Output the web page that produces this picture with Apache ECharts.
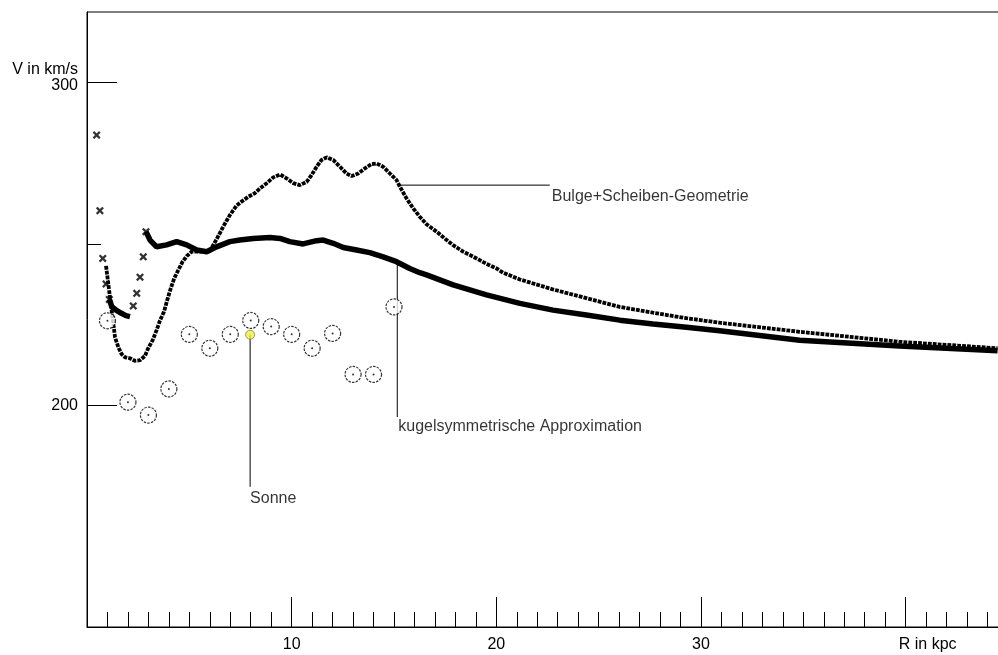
<!DOCTYPE html>
<html>
<head>
<meta charset="utf-8">
<script src="https://cdn.jsdelivr.net/npm/echarts@6/dist/echarts.min.js"></script>
<style>
  html, body { margin: 0; padding: 0; background: #fff; }
  #chart { width: 998px; height: 655px; }
</style>
</head>
<body>
<div id="chart"></div>
<script>
// Rotationskurve: R in kpc, V in km/s
var xMajorTicks = [10, 20, 30, 40];
var xMinorTicks = [1, 2, 3, 4, 5, 6, 7, 8, 9, 11, 12, 13, 14, 15, 16, 17, 18, 19,
                   21, 22, 23, 24, 25, 26, 27, 28, 29, 31, 32, 33, 34, 35, 36, 37, 38, 39,
                   41, 42, 43, 44];
var yMajorTicks = [200, 300];
var yMinorTicks = [250];

// Bulge+Scheiben-Geometrie (kleine Quadrate)
var bulgeCurve = [
  [0.93, 243.3], [1.37, 221.2], [1.53, 218.1], [1.69, 216.0], [1.86, 215.0], [2.10, 214.7],
  [2.34, 213.9], [2.59, 214.1], [2.83, 215.4], [2.99, 217.8], [3.21, 220.3], [3.40, 223.4],
  [3.56, 226.3], [3.76, 229.1], [3.92, 232.7], [4.09, 236.3], [4.26, 239.4], [4.46, 242.0],
  [4.67, 244.6], [4.87, 246.3], [5.11, 247.7], [5.52, 247.7], [6.00, 247.9], [6.33, 251.5],
  [6.66, 255.5], [6.98, 259.0], [7.31, 262.0], [7.55, 263.2], [7.88, 264.7], [8.20, 265.8],
  [8.45, 267.3], [8.78, 268.9], [9.10, 270.7], [9.43, 271.6], [9.75, 270.4], [10.08, 268.9],
  [10.40, 268.3], [10.73, 269.3], [10.97, 271.4], [11.22, 274.0], [11.46, 276.1], [11.71, 276.9],
  [12.03, 276.1], [12.36, 274.0], [12.68, 271.9], [12.93, 271.1], [13.25, 271.9], [13.58, 273.5],
  [13.90, 274.8], [14.15, 275.0], [14.47, 274.0], [14.80, 271.9], [15.12, 269.9], [15.29, 267.8],
  [15.61, 264.2], [15.94, 261.1], [16.26, 258.5], [16.59, 256.2], [17.08, 253.9], [17.57, 251.3],
  [17.89, 249.7], [18.38, 247.7], [18.70, 246.7], [19.19, 245.1], [19.52, 243.9], [20.01, 242.5],
  [20.33, 241.2], [21.15, 239.1], [22.77, 236.0], [24.40, 233.3], [26.03, 230.6], [27.66, 228.8],
  [29.29, 227.1], [30.91, 225.7], [34.82, 222.9], [39.70, 219.8], [44.49, 217.8]
];

// kugelsymmetrische Approximation: einzeln sichtbare Kreuze ...
var kugelCrosses = [
  [0.47, 283.8], [0.63, 260.4], [0.77, 245.6], [0.93, 237.7], [1.09, 232.9],
  [2.26, 230.9], [2.43, 234.8], [2.59, 239.8], [2.75, 246.1], [2.88, 253.9]
];
// ... und die Stellen, wo die Kreuze zu einem Band verschmelzen
var kugelBandInner = [
  [1.09, 232.9], [1.21, 230.7], [1.42, 229.6], [1.66, 228.7], [1.90, 227.9], [2.10, 227.6]
];
var kugelBandOuter = [
  [2.88, 253.9], [3.08, 251.3], [3.40, 249.2], [3.89, 249.8], [4.38, 250.8], [4.87, 249.8],
  [5.36, 248.2], [5.85, 247.7], [6.33, 249.2], [6.98, 250.8], [7.47, 251.3], [8.12, 251.8],
  [8.94, 252.1], [9.43, 251.8], [9.91, 250.8], [10.56, 250.1], [11.22, 251.1], [11.54, 251.3],
  [12.03, 250.3], [12.52, 249.0], [13.17, 248.2], [13.82, 247.4], [14.47, 246.1], [15.12, 244.6],
  [15.77, 242.5], [16.26, 241.2], [16.59, 240.5], [17.89, 237.4], [19.52, 234.3], [21.15, 231.7],
  [22.77, 229.6], [24.40, 228.1], [26.03, 226.5], [27.66, 225.3], [29.29, 224.3], [30.91, 223.2],
  [34.82, 220.3], [39.70, 218.5], [44.49, 217.0]
];

// Messwerte (Kreise)
var observed = [
  [1, 226.3], [2, 201.1], [3, 197.1], [4, 205.2], [5, 222.1], [6, 217.8], [7, 222.1],
  [8, 226.4], [9, 224.5], [10, 222.1], [11, 217.8], [12, 222.4], [13, 209.7], [14, 209.7], [15, 230.6]
];
var sun = [7.97, 222];

// Beschriftungen mit Hinweislinien
var sunLeader = [[7.97, 222], [7.97, 174.9]];
var kugelLeader = [[15.16, 244.4], [15.16, 196.5]];
var bulgeLeader = [[15.29, 268.3], [22.61, 268.3]];

var FONT = '"Liberation Sans", Arial, sans-serif';
var crossPath = 'path://M0,2L2,0L5,3L8,0L10,2L7,5L10,8L8,10L5,7L2,10L0,8L3,5Z';

function leaderSeries(points) {
  return {
    type: 'line', data: points, symbol: 'none', silent: true, z: 1,
    lineStyle: { color: '#000', width: 1 }
  };
}

function noteLabel(pt, text, dx, dy) {
  return {
    value: pt,
    label: {
      show: true, formatter: text, position: 'inside', align: 'left', verticalAlign: 'top',
      offset: [dx, dy], color: '#000', fontFamily: FONT, fontSize: 16
    }
  };
}

var chart = echarts.init(document.getElementById('chart'));
chart.setOption({
  animation: false,
  backgroundColor: '#fff',
  grid: {
    left: 87, right: -10, top: 12, bottom: 28,
    show: true, borderColor: '#000', borderWidth: 1,
    outerBoundsMode: 'none'
  },
  xAxis: [{
    type: 'value', min: 0, max: 45, position: 'bottom',
    axisLine: { show: true, lineStyle: { color: '#000', width: 1 } },
    axisTick: { show: true, inside: true, length: 30, customValues: xMajorTicks, lineStyle: { color: '#000' } },
    axisLabel: {
      customValues: xMajorTicks, margin: 10, color: '#000', fontFamily: FONT, fontSize: 16,
      formatter: function (v) { return v === 40 ? '{r|R in kpc}' : String(v); },
      rich: { r: { padding: [0, 0, 0, 44], color: '#000', fontFamily: FONT, fontSize: 16 } }
    },
    splitLine: { show: false }
  }, {
    type: 'value', min: 0, max: 45, position: 'bottom',
    axisLine: { show: false },
    axisTick: { show: true, inside: true, length: 15, customValues: xMinorTicks, lineStyle: { color: '#000' } },
    axisLabel: { show: false },
    splitLine: { show: false }
  }],
  yAxis: [{
    type: 'value', min: 131.5, max: 321.9, position: 'left',
    axisLine: { show: true, lineStyle: { color: '#000', width: 1 } },
    axisTick: { show: true, inside: true, length: 30, customValues: yMajorTicks, lineStyle: { color: '#000' } },
    axisLabel: {
      customValues: yMajorTicks, margin: 9, color: '#000', fontFamily: FONT, fontSize: 16,
      formatter: function (v) {
        return v === 300 ? '{a|V in km/s}\n{a|300}\n{e| }' : '{a|' + v + '}';
      },
      rich: {
        a: { lineHeight: 16, color: '#000', fontFamily: FONT, fontSize: 16 },
        e: { lineHeight: 10, fontSize: 8 }
      }
    },
    splitLine: { show: false }
  }, {
    type: 'value', min: 131.5, max: 321.9, position: 'left',
    axisLine: { show: false },
    axisTick: { show: true, inside: true, length: 14, customValues: yMinorTicks, lineStyle: { color: '#000' } },
    axisLabel: { show: false },
    splitLine: { show: false }
  }],
  series: [
    leaderSeries(sunLeader),
    leaderSeries(kugelLeader),
    leaderSeries(bulgeLeader),
    {
      type: 'line', data: kugelBandInner, symbol: 'none', z: 2,
      lineStyle: { color: '#000', width: 5.5 }
    },
    {
      type: 'line', data: kugelBandOuter, symbol: 'none', z: 2,
      lineStyle: { color: '#000', width: 5.5 }
    },
    {
      type: 'scatter', data: kugelCrosses, symbol: crossPath, symbolSize: 8, z: 3,
      itemStyle: { color: '#000' }
    },
    {
      type: 'line', data: bulgeCurve, symbol: 'none', z: 3,
      lineStyle: { color: '#000', width: 3.8, type: [3.8, 1.1], cap: 'butt' }
    },
    {
      type: 'scatter', data: observed, symbol: 'circle', symbolSize: 16, z: 4,
      itemStyle: { color: '#fff', borderColor: '#000', borderWidth: 1.2, borderType: [2.5, 1.2] }
    },
    {
      type: 'scatter', data: observed, symbol: 'circle', symbolSize: 2, z: 5,
      itemStyle: { color: '#000' }
    },
    {
      type: 'scatter', data: [sun], symbol: 'circle', symbolSize: 9, z: 6,
      itemStyle: { color: '#f2ee4c', borderColor: '#8a8630', borderWidth: 1 }
    },
    {
      type: 'scatter', symbolSize: 1, z: 6, silent: true,
      itemStyle: { color: 'rgba(0,0,0,0)' },
      data: [
        noteLabel(sunLeader[1], 'Sonne', 0, 4),
        noteLabel(kugelLeader[1], 'kugelsymmetrische Approximation', 1, 2),
        noteLabel(bulgeLeader[1], 'Bulge+Scheiben-Geometrie', 2, 3)
      ]
    }
  ]
});
</script>
</body>
</html>
